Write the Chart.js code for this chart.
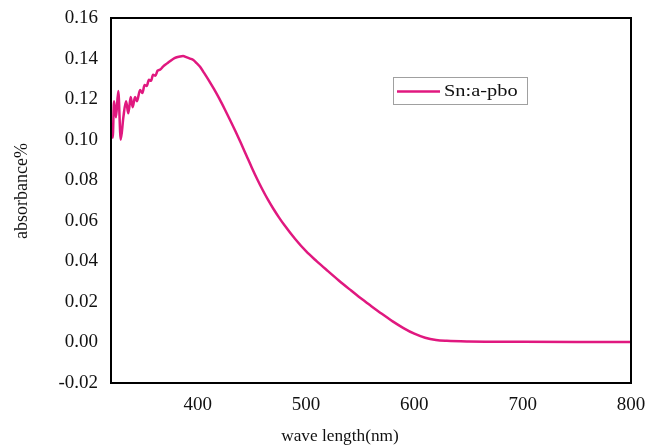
<!DOCTYPE html>
<html>
<head>
<meta charset="utf-8">
<script src="https://cdn.jsdelivr.net/npm/chart.js@4"></script>
<style>
  html, body { margin: 0; padding: 0; background: #ffffff; }
  #wrap { width: 649px; height: 447px; }
</style>
</head>
<body>
<div id="wrap"><canvas id="c" width="649" height="447"></canvas></div>
<script>
const seriesName = "Sn:a-pbo";
const xTitle = "wave length(nm)";
const yTitle = "absorbance%";
const xTickValues = [400, 500, 600, 700, 800];
const wavelength = [
  320.5, 321.6, 322.8, 324.6, 326.7, 329.0, 331.4, 333.9, 336.0, 338.2,
  340.0, 342.2, 344.0, 346.8, 349.0, 351.0, 353.0, 355.0, 357.0, 358.8,
  361.0, 363.0, 365.3, 368.0, 371.5, 374.0, 377.3, 380.0, 383.7, 386.5,
  389.9, 393.0, 396.0, 399.0, 402.2, 405, 410, 415, 420, 425,
  430, 435, 440, 445, 450, 455, 460, 465, 470, 475,
  480, 490, 500, 510, 520, 530, 540, 550, 560, 570,
  580, 590, 600, 610, 620, 630, 650, 700, 750, 800
];
const absorbance = [
  0.108, 0.101, 0.119, 0.111, 0.124, 0.100, 0.111, 0.119, 0.113, 0.121,
  0.116, 0.121, 0.119, 0.1245, 0.123, 0.127, 0.1265, 0.1295, 0.129, 0.132,
  0.1315, 0.134, 0.1345, 0.136, 0.1375, 0.1385, 0.1398, 0.1405, 0.141, 0.1412,
  0.1406, 0.1400, 0.1393, 0.1378, 0.1360, 0.1337, 0.1295, 0.1250, 0.1202, 0.1150,
  0.1096, 0.1040, 0.0982, 0.0922, 0.0862, 0.0805, 0.0752, 0.0703, 0.0658, 0.0617,
  0.0579, 0.0510, 0.0450, 0.0400, 0.0353, 0.0307, 0.0263, 0.0220, 0.0180, 0.0141,
  0.0104, 0.0071, 0.0043, 0.0023, 0.0012, 0.0008, 0.0005, 0.0003, 0.0002, 0.0002
];

const lineColor = "#e0187f";
const fontFamily = "'Liberation Serif', 'Times New Roman', serif";

const decorPlugin = {
  id: "decor",
  afterDatasetsDraw(chart) {
    const { ctx, chartArea: a } = chart;
    ctx.save();
    // frame
    ctx.strokeStyle = "#000";
    ctx.lineWidth = 2;
    ctx.strokeRect(a.left, a.top, a.right - a.left, a.bottom - a.top);
    // legend
    const lx = a.left + 282, ly = a.top + 59, lw = 134, lh = 27;
    ctx.lineWidth = 1;
    ctx.strokeStyle = "#a0a0a0";
    ctx.fillStyle = "#fff";
    ctx.fillRect(lx, ly, lw, lh);
    ctx.strokeRect(lx + 0.5, ly + 0.5, lw, lh);
    ctx.strokeStyle = lineColor;
    ctx.lineWidth = 2.5;
    ctx.beginPath();
    ctx.moveTo(lx + 4, ly + lh / 2 + 1);
    ctx.lineTo(lx + 47, ly + lh / 2 + 1);
    ctx.stroke();
    ctx.fillStyle = "#111";
    ctx.font = "17px " + fontFamily;
    ctx.textBaseline = "middle";
    ctx.textAlign = "left";
    ctx.save();
    ctx.translate(lx + 51, ly + lh / 2 + 1);
    ctx.scale(1.2, 1);
    ctx.fillText(seriesName, 0, 0);
    ctx.restore();
    // axis titles
    ctx.fillStyle = "#111";
    ctx.font = "16px " + fontFamily;
    ctx.textAlign = "center";
    ctx.textBaseline = "middle";
    ctx.save();
    ctx.translate(340, 437);
    ctx.scale(1.08, 1);
    ctx.fillText(xTitle, 0, 0);
    ctx.restore();
    ctx.save();
    ctx.translate(22, 191);
    ctx.rotate(-Math.PI / 2);
    ctx.font = "18px " + fontFamily;
    ctx.fillText(yTitle, 0, 0);
    ctx.restore();
    ctx.restore();
  }
};

new Chart(document.getElementById("c"), {
  type: "line",
  data: {
    datasets: [{
      label: seriesName,
      data: wavelength.map((x, i) => ({ x: x, y: absorbance[i] })),
      borderColor: lineColor,
      backgroundColor: lineColor,
      borderWidth: 2.5,
      pointRadius: 0,
      cubicInterpolationMode: "monotone",
      fill: false
    }]
  },
  options: {
    responsive: false,
    animation: false,
    events: [],
    layout: { padding: { top: 18, right: 18, left: 0, bottom: 0 } },
    plugins: { legend: { display: false }, tooltip: { enabled: false } },
    scales: {
      x: {
        type: "linear",
        min: 320,
        max: 800,
        afterBuildTicks(scale) { scale.ticks = xTickValues.map(v => ({ value: v })); },
        afterFit(scale) { scale.height = 64; scale.paddingLeft = 0; scale.paddingRight = 0; },
        grid: { display: false, drawTicks: false },
        border: { display: false },
        ticks: {
          color: "#111",
          padding: 11,
          maxRotation: 0,
          font: { family: fontFamily, size: 19 },
          callback: v => String(v)
        }
      },
      y: {
        min: -0.02,
        max: 0.16,
        afterFit(scale) { scale.width = 111; scale.paddingTop = 0; scale.paddingBottom = 0; },
        grid: { display: false, drawTicks: false },
        border: { display: false },
        ticks: {
          color: "#111",
          padding: 13,
          stepSize: 0.02,
          font: { family: fontFamily, size: 19 },
          callback: v => v.toFixed(2)
        }
      }
    }
  },
  plugins: [decorPlugin]
});
</script>
</body>
</html>
